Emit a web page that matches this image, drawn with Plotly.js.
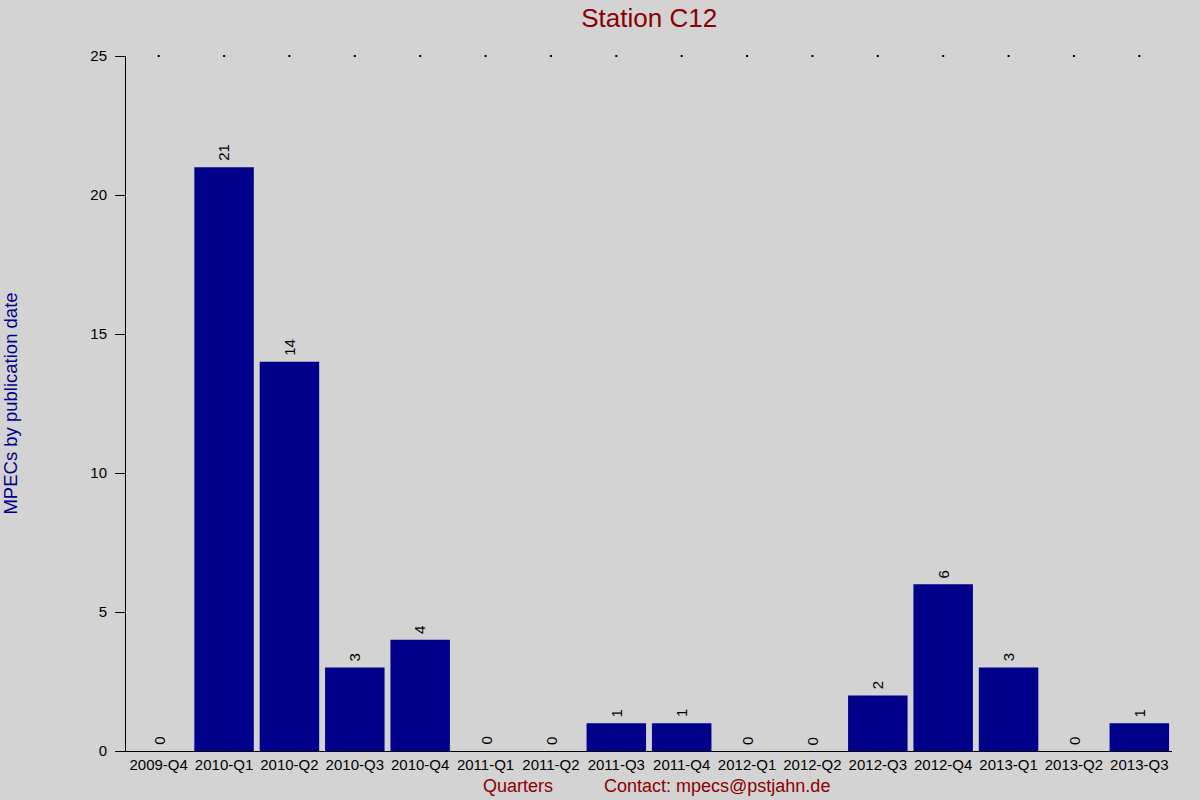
<!DOCTYPE html>
<html>
<head>
<meta charset="utf-8">
<script src="https://cdn.plot.ly/plotly-3.0.1.min.js"></script>
<style>
  html, body { margin: 0; padding: 0; background: #d3d3d3; }
  #chart { width: 1200px; height: 800px; }
</style>
</head>
<body>
<div id="chart"></div>
<script>
// quarters and MPEC counts
const quarters = ['2009-Q4', '2010-Q1', '2010-Q2', '2010-Q3', '2010-Q4', '2011-Q1', '2011-Q2', '2011-Q3',
                  '2011-Q4', '2012-Q1', '2012-Q2', '2012-Q3', '2012-Q4', '2013-Q1', '2013-Q2', '2013-Q3'];
const mpecs = [0, 21, 14, 3, 4, 0, 0, 1, 1, 0, 0, 2, 6, 3, 0, 1];
const yMax = 25;
const yTicks = [0, 5, 10, 15, 20, 25];

const font = 'Liberation Sans, Arial, sans-serif';

const bars = {
    type: 'bar',
    x: quarters,
    y: mpecs,
    marker: { color: '#00008b', line: { width: 0 } },
    hoverinfo: 'x+y'
};

// little dots along the top edge, one per quarter
const topDots = {
    type: 'scatter',
    mode: 'markers',
    x: quarters,
    y: quarters.map(() => yMax),
    marker: { symbol: 'square', size: 2, color: '#000000' },
    cliponaxis: false,
    hoverinfo: 'skip'
};

// value labels, turned upright, just above each bar
const valueLabels = quarters.map((q, i) => ({
    x: q,
    y: mpecs[i],
    xref: 'x', yref: 'y',
    text: String(mpecs[i]),
    textangle: -90,
    showarrow: false,
    xanchor: 'center',
    yanchor: 'bottom',
    yshift: 4,
    font: { family: font, size: 15, color: '#000000' }
}));

const layout = {
    width: 1200,
    height: 800,
    paper_bgcolor: '#d3d3d3',
    plot_bgcolor: '#d3d3d3',
    margin: { t: 56, r: 28, b: 49, l: 126 },
    showlegend: false,
    bargap: 0.09,
    title: {
        text: 'Station C12',
        font: { family: font, size: 26, color: '#8b0000' },
        x: 0.5410, xanchor: 'center',
        y: 0.978, yanchor: 'middle'
    },
    xaxis: {
        type: 'category',
        range: [-0.5, quarters.length - 0.5],
        showline: true,
        linecolor: '#000000',
        linewidth: 1,
        ticks: '',
        showgrid: false,
        zeroline: false,
        tickfont: { family: font, size: 15, color: '#000000' },
        fixedrange: true
    },
    yaxis: {
        range: [0, yMax],
        tickvals: yTicks,
        ticktext: yTicks.map(String),
        ticks: 'outside',
        ticklen: 10,
        tickcolor: '#000000',
        ticklabelstandoff: 5,
        showline: true,
        linecolor: '#000000',
        linewidth: 1,
        showgrid: false,
        zeroline: false,
        tickfont: { family: font, size: 15, color: '#000000' },
        title: {
            text: 'MPECs by publication date',
            font: { family: font, size: 18.5, color: '#00008b' },
            standoff: 71
        },
        fixedrange: true
    },
    annotations: valueLabels.concat([
        {
            text: 'Quarters',
            xref: 'paper', yref: 'paper',
            x: 0.3745, y: -0.0505, xanchor: 'center', yanchor: 'middle',
            showarrow: false,
            font: { family: font, size: 18, color: '#8b0000' }
        },
        {
            text: 'Contact: mpecs@pstjahn.de',
            xref: 'paper', yref: 'paper',
            x: 0.4555, y: -0.0505, xanchor: 'left', yanchor: 'middle',
            showarrow: false,
            font: { family: font, size: 18, color: '#8b0000' }
        }
    ])
};

Plotly.newPlot('chart', [bars, topDots], layout, { displayModeBar: false, staticPlot: true });
</script>
</body>
</html>
